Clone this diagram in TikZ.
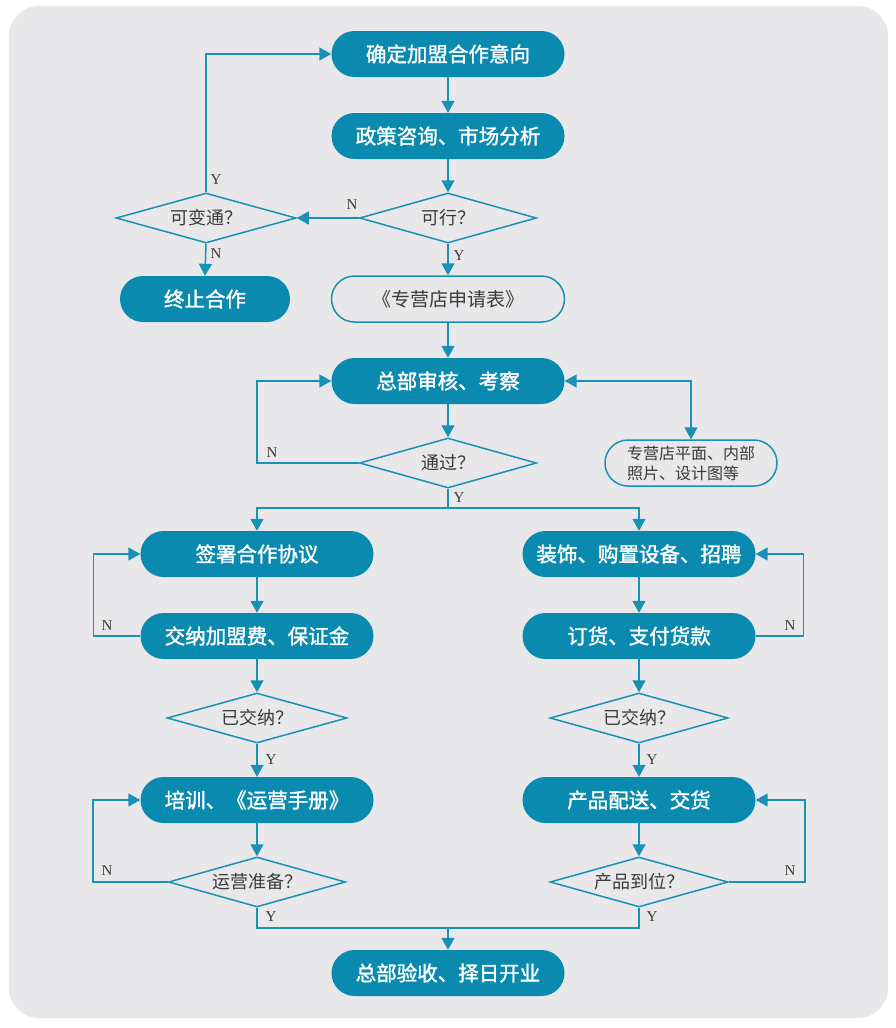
\documentclass[tikz,border=0pt]{standalone}
\usepackage{fontspec}
\setmainfont{Liberation Serif}
\newfontfamily\cjk{Noto Sans CJK SC}
\newfontfamily\cjkb[FakeBold=1.6]{Noto Sans CJK SC}
\usetikzlibrary{arrows.meta,shapes.geometric,calc}
\definecolor{teal}{HTML}{0A8AAE}
\definecolor{linecol}{HTML}{1991B6}
\definecolor{panel}{HTML}{E8E8EA}
\definecolor{txt}{HTML}{3A3A3A}
\begin{document}
\begin{tikzpicture}[x=1pt,y=-1pt,
  stepbox/.style={rectangle, rounded corners=23pt, fill=teal, draw=none,
    minimum width=233pt, minimum height=46pt, inner sep=0pt,
    text=white, font=\cjkb\fontsize{20.5}{24}\selectfont},
  openbox/.style={rectangle, rounded corners=23pt, fill=none, draw=linecol, line width=1.5pt,
    minimum width=233pt, minimum height=46pt, inner sep=0pt,
    text=txt, font=\cjk\fontsize{19}{22}\selectfont},
  notebox/.style={openbox, minimum width=172pt, rounded corners=23pt,
    align=left, font=\cjk\fontsize{16}{20}\selectfont},
  decision/.style={diamond, shape aspect=3.5, draw=linecol, line width=1.5pt, fill=none,
    minimum width=177pt, minimum height=50pt, inner sep=0pt,
    text=txt, font=\cjk\fontsize{18}{20}\selectfont},
  flow/.style={draw=linecol, line width=1.5pt,
    -{Triangle[width=13pt,length=12pt]}},
  plain/.style={draw=linecol, line width=1.5pt},
  yn/.style={text=txt, font=\fontsize{15}{17}\selectfont, inner sep=0pt}
]
% page and rounded panel
\fill[white] (0,0) rectangle (895,1028);
\fill[panel, rounded corners=30pt] (9,6) rectangle (888,1018);
\useasboundingbox (0,0) rectangle (895,1028);

% main column
\node[stepbox] (intent) at (448,54) {确定加盟合作意向};
\node[stepbox] (consult) at (448,136) {政策咨询、市场分析};
\node[decision] (feasible) at (448,218) {可行？};
\node[decision, minimum width=180pt] (adapt) at (206,218) {可变通？};
\node[stepbox, minimum width=170pt] (stop) at (205,299) {终止合作};
\node[openbox] (apply) at (448,299) {《专营店申请表》};
\node[stepbox] (review) at (448,381) {总部审核、考察};
\node[decision] (pass) at (448,463) {通过？};
\node[notebox] (docs) at (691,463) {专营店平面、内部\\照片、设计图等};

% left branch
\node[stepbox] (sign) at (257,554) {签署合作协议};
\node[stepbox] (pay) at (257,636) {交纳加盟费、保证金};
\node[decision, minimum width=180pt] (paidL) at (257,718) {已交纳？};
\node[stepbox] (train) at (257,800) {培训、《运营手册》};
\node[decision] (ready) at (257,882) {运营准备？};

% right branch
\node[stepbox] (decor) at (639,554) {装饰、购置设备、招聘};
\node[stepbox] (order) at (639,636) {订货、支付货款};
\node[decision, minimum width=178pt] (paidR) at (639,718) {已交纳？};
\node[stepbox] (deliver) at (639,800) {产品配送、交货};
\node[decision, minimum width=178pt] (arrive) at (639,882) {产品到位？};

% final step
\node[stepbox] (open) at (448,973) {总部验收、择日开业};

% connectors of the main column
\draw[flow] (intent) -- (consult);
\draw[flow] (consult) -- (feasible);
\draw[flow] (feasible.west) -- (adapt.east);
\draw[flow] (adapt.north) |- (intent.west);
\draw[flow] (adapt.south) -- (stop.north);
\draw[flow] (feasible.south) -- (apply.north);
\draw[flow] (apply) -- (review);
\draw[flow] (review) -- (pass);
\draw[flow] (pass.west) -- ++(-102,0) |- (review.west);
\draw[plain, {Triangle[width=13pt,length=12pt]}-{Triangle[width=13pt,length=12pt]}]
  (review.east) -| (docs.north);

% split after approval
\coordinate (split) at (448,508);
\draw[plain] (pass.south) -- (split);
\draw[flow] (split) -| (sign.north);
\draw[flow] (split) -| (decor.north);

% left branch connectors
\draw[flow] (sign) -- (pay);
\draw[flow] (pay.west) -- ++(-47,0) |- (sign.west);
\draw[flow] (pay) -- (paidL);
\draw[flow] (paidL.south) -- (train.north);
\draw[flow] (train) -- (ready);
\draw[flow] (ready.west) -- ++(-75,0) |- (train.west);

% right branch connectors
\draw[flow] (decor) -- (order);
\draw[flow] (order.east) -- ++(48,0) |- (decor.east);
\draw[flow] (order) -- (paidR);
\draw[flow] (paidR.south) -- (deliver.north);
\draw[flow] (deliver) -- (arrive);
\draw[flow] (arrive.east) -- ++(76,0) |- (deliver.east);

% join into the final step
\coordinate (join) at (448,928);
\draw[plain] (ready.south) |- (join) -| (arrive.south);
\draw[flow] (join) -- (open.north);

% Y / N labels
\node[yn] (yA) at (216,180) {Y};
\node[yn] (nA) at (352,205) {N};
\node[yn] (nB) at (216,254) {N};
\node[yn] (yB) at (459,256) {Y};
\node[yn] (nC) at (272,453) {N};
\node[yn] (yC) at (459,498) {Y};
\node[yn] (nD) at (107,626) {N};
\node[yn] (yD) at (271,760) {Y};
\node[yn] (nE) at (107,871) {N};
\node[yn] (yE) at (271,917) {Y};
\node[yn] (nF) at (790,626) {N};
\node[yn] (yF) at (652,760) {Y};
\node[yn] (nG) at (790,871) {N};
\node[yn] (yG) at (652,917) {Y};
\end{tikzpicture}
\end{document}
